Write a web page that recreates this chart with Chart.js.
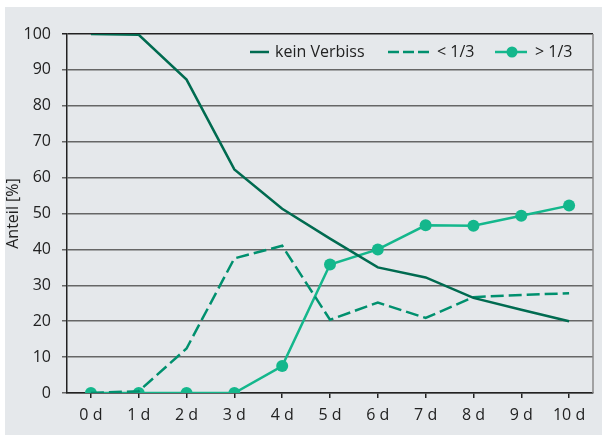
<!DOCTYPE html>
<html>
<head>
<meta charset="utf-8">
<script src="https://cdn.jsdelivr.net/npm/chart.js@4"></script>
<style>
  html, body { margin: 0; padding: 0; background: #fff; }
  #wrap { position: absolute; left: 5px; top: 7px; width: 597px; height: 428px; background: #e5e8eb; }
</style>
</head>
<body>
<div id="wrap"><canvas id="chart"></canvas></div>
<script>
// Anteil der Pflanzen je Verbissklasse über die Tage.
const days = ['0 d', '1 d', '2 d', '3 d', '4 d', '5 d', '6 d', '7 d', '8 d', '9 d', '10 d'];
const keinVerbiss = [100, 99.8, 87.3, 62.3, 51.3, 43, 35, 32.2, 26.5, 23.2, 20];
const unterDrittel = [0, 0.5, 12.4, 37.5, 41, 20.4, 25.2, 20.9, 26.7, 27.3, 27.8];
const ueberDrittel = [0, 0, 0, 0, 7.5, 35.8, 40, 46.7, 46.6, 49.4, 52.2];

const dark = '#006b50';
const mid = '#00906e';
const light = '#14b78c';
const font = { family: '"Open Sans", sans-serif', size: 16 };

// Legend drawn inside the plot area, top right.
const legendPlugin = {
  id: 'innerLegend',
  afterDatasetsDraw(chart) {
    const ctx = chart.ctx;
    const area = chart.chartArea;
    const y = area.top + 18;
    ctx.save();
    ctx.font = '16px "Open Sans", sans-serif';
    ctx.textBaseline = 'middle';
    ctx.fillStyle = '#222';
    ctx.lineWidth = 2.5;

    let x = 245;
    ctx.strokeStyle = dark;
    ctx.beginPath(); ctx.moveTo(x, y); ctx.lineTo(x + 19, y); ctx.stroke();
    ctx.fillText('kein Verbiss', x + 25, y);

    x = 383;
    ctx.strokeStyle = mid;
    ctx.setLineDash([11, 4]);
    ctx.beginPath(); ctx.moveTo(x, y); ctx.lineTo(x + 42, y); ctx.stroke();
    ctx.setLineDash([]);
    ctx.fillText('< 1/3', x + 49, y);

    x = 490;
    ctx.strokeStyle = light;
    ctx.fillStyle = light;
    ctx.beginPath(); ctx.moveTo(x, y); ctx.lineTo(x + 32, y); ctx.stroke();
    ctx.beginPath(); ctx.arc(x + 17, y, 5.5, 0, Math.PI * 2); ctx.fill();
    ctx.fillStyle = '#222';
    ctx.fillText('> 1/3', x + 40, y);
    ctx.restore();
  }
};

// Right frame line of the plot.
const framePlugin = {
  id: 'frame',
  beforeDatasetsDraw(chart) {
    const { ctx, chartArea } = chart;
    ctx.save();
    ctx.strokeStyle = '#8a8a8a';
    ctx.lineWidth = 1.5;
    ctx.beginPath();
    ctx.moveTo(chartArea.right, chartArea.top);
    ctx.lineTo(chartArea.right, chartArea.bottom);
    ctx.stroke();
    ctx.restore();
  }
};

new Chart(document.getElementById('chart'), {
  type: 'line',
  data: {
    labels: days,
    datasets: [
      {
        label: 'kein Verbiss', data: keinVerbiss, borderColor: dark, borderWidth: 2.5,
        pointRadius: 0, tension: 0
      },
      {
        label: '< 1/3', data: unterDrittel, borderColor: mid, borderWidth: 2.5,
        borderDash: [13, 5], pointRadius: 0, tension: 0
      },
      {
        label: '> 1/3', data: ueberDrittel, borderColor: light, backgroundColor: light,
        borderWidth: 2.5, pointRadius: 6, pointBorderWidth: 0, tension: 0
      }
    ]
  },
  options: {
    responsive: true,
    maintainAspectRatio: false,
    animation: false,
    layout: { padding: { left: 0, right: 9, top: 27, bottom: 0 } },
    plugins: { legend: { display: false }, tooltip: { enabled: false } },
    scales: {
      x: {
        offset: true,
        grid: { drawOnChartArea: false, drawTicks: true, tickLength: 5, color: '#222', lineWidth: 1.5 },
        border: { color: '#222', width: 1.5 },
        ticks: { color: '#222', font: font, padding: 8, maxRotation: 0 },
        afterFit(s) { s.height = 42; }
      },
      y: {
        min: 0, max: 100,
        ticks: { stepSize: 10, color: '#222', font: font, padding: 11 },
        grid: {
          tickLength: 5,
          lineWidth: 1.5,
          color: (c) => (c.tick && c.tick.value === 100 ? '#222' : '#666')
        },
        border: { color: '#222', width: 1.5 },
        title: {
          display: true, text: 'Anteil [%]', color: '#222',
          font: { family: '"Open Sans", sans-serif', size: 16 }, padding: { top: -1, bottom: 0 }
        },
        afterFit(s) { s.width = 62; }
      }
    }
  },
  plugins: [framePlugin, legendPlugin]
});
</script>
</body>
</html>
